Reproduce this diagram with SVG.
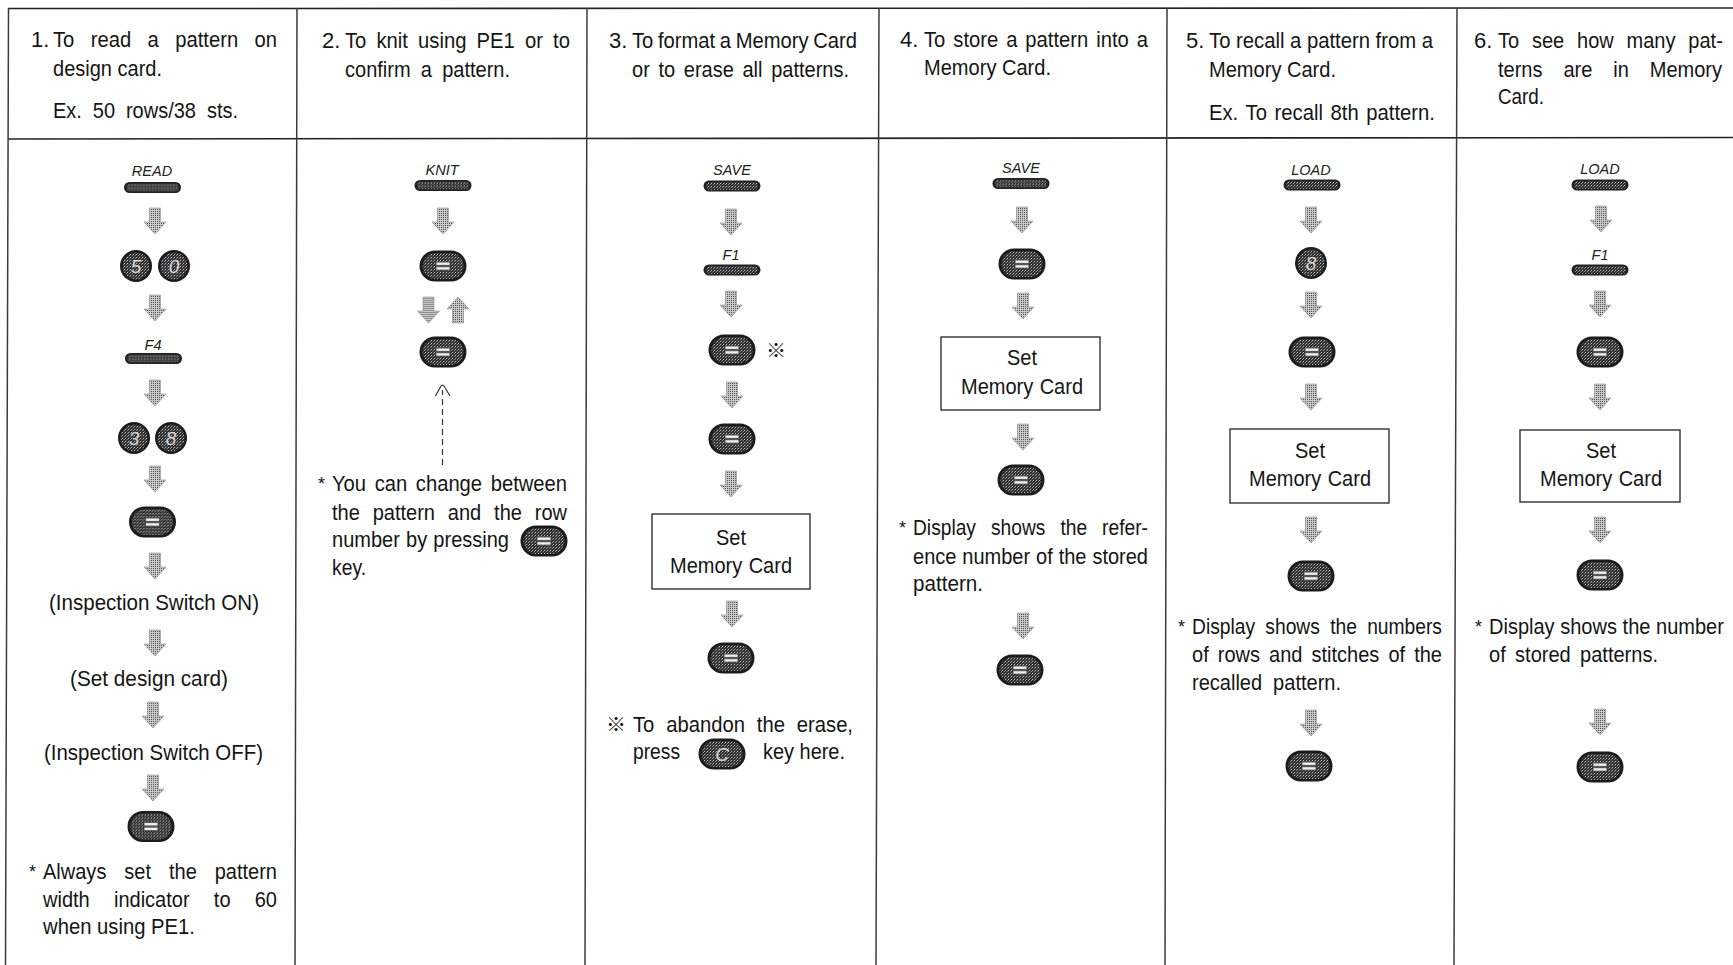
<svg xmlns="http://www.w3.org/2000/svg" width="1733" height="965" viewBox="0 0 1733 965">
<style>
text{font-family:"Liberation Sans",Arial,sans-serif;font-size:22px;fill:#151515}
.c{text-anchor:middle}
.lab{font-size:14.5px;font-style:italic;text-anchor:middle;fill:#222}
.k{font-size:19px;font-style:italic;text-anchor:middle;fill:#d8d8d8}
.st{font-size:18px}
.rf{font-family:"Noto Sans CJK JP",sans-serif;font-size:20px;font-weight:700}
.line{stroke:#222;stroke-width:1.6;fill:none}
.vl{stroke:#3a3a3a;stroke-width:1.5;fill:none}
.box{fill:#fff;stroke:#222;stroke-width:1.3}
.dash{stroke:#333;stroke-width:1.2;fill:none}
</style>
<defs>
<pattern id="st" width="3" height="3" patternUnits="userSpaceOnUse"><rect width="3" height="3" fill="#2c2c2c"/><rect x="0" y="0" width="1" height="1" fill="#c4c4c4"/><rect x="2" y="1" width="1" height="1" fill="#8c8c8c"/><rect x="1" y="2" width="1" height="1" fill="#555"/></pattern>
<pattern id="ag" width="2" height="2" patternUnits="userSpaceOnUse"><rect width="2" height="2" fill="#c8c8c8"/><rect width="1" height="1" fill="#555"/></pattern>
<polygon id="ar" points="-5.500,-13 5.500,-13 5.500,1 11,1 0,13 -11,1 -5.500,1" fill="url(#ag)" stroke="#8a8a8a" stroke-width=".6"/>
<g id="keyb"><rect x="-23.500" y="-15.500" width="47" height="31" rx="15.500" fill="#1c1c1c"/><rect x="-20.500" y="-13" width="41" height="26" rx="13" fill="url(#st)"/></g>
<g id="key"><use href="#keyb"/><rect x="-7" y="-4.500" width="14" height="9" fill="#555"/><rect x="-6.500" y="-3.500" width="13" height="2.400" fill="#eee"/><rect x="-6.500" y="1.200" width="13" height="2.400" fill="#eee"/></g>
<g id="disc"><circle r="16" fill="#1c1c1c"/><circle r="13.500" fill="url(#st)"/></g>
<g id="bar"><rect x="-28.500" y="-5.500" width="57" height="11" rx="5.500" fill="#222"/><rect x="-26" y="-3.800" width="52" height="7.600" rx="3.500" fill="url(#st)"/></g>
</defs>
<rect width="1733" height="965" fill="#fff"/>

<g id="frame">
<path class="line" d="M8 8.500L1733 8"/>
<path class="line" d="M8 139L1733 137.500"/>
<path class="vl" d="M8.500 8L5.500 965M297 8L295 965M587 8L585 965M879 8L876 965M1167 8L1165 965M1457 8L1454 965"/>
</g>

<g id="connectors">
<use href="#ar" x="155" y="221"/><use href="#ar" x="155" y="308"/><use href="#ar" x="155" y="393"/><use href="#ar" x="155" y="479"/><use href="#ar" x="155" y="566"/><use href="#ar" x="155" y="643"/><use href="#ar" x="153" y="715"/><use href="#ar" x="153" y="788"/>
<use href="#ar" x="443" y="221"/><use href="#ar" x="428.500" y="310"/><use href="#ar" transform="translate(458 310) rotate(180)"/>
<path class="dash" stroke-dasharray="6 4" d="M442.500 465V390"/><path class="dash" d="M435.500 396L441 386Q442.500 384 444 386L450 396"/>
<use href="#ar" x="731" y="222"/><use href="#ar" x="731" y="304"/><use href="#ar" x="732" y="395"/><use href="#ar" x="731" y="484"/><use href="#ar" x="732" y="614"/>
<use href="#ar" x="1022" y="220"/><use href="#ar" x="1023" y="306"/><use href="#ar" x="1023" y="437"/><use href="#ar" x="1023" y="626"/>
<use href="#ar" x="1311" y="220"/><use href="#ar" x="1311" y="305"/><use href="#ar" x="1311" y="397"/><use href="#ar" x="1311" y="530"/><use href="#ar" x="1311" y="723"/>
<use href="#ar" x="1601" y="219"/><use href="#ar" x="1600" y="304"/><use href="#ar" x="1600" y="397"/><use href="#ar" x="1600" y="530"/><use href="#ar" x="1600" y="722"/>
</g>

<g id="col1">
<g id="h1"><text y="47"><tspan x="31">1.</tspan> <tspan x="53" word-spacing="11.700" textLength="224" lengthAdjust="spacingAndGlyphs">To read a pattern on</tspan></text><text x="53" y="76" textLength="109" lengthAdjust="spacingAndGlyphs">design card.</text><text x="53" y="118" word-spacing="5.900" textLength="185" lengthAdjust="spacingAndGlyphs">Ex. 50 rows/38 sts.</text></g>
<g id="c1-read"><text class="lab" x="152" y="176">READ</text><use href="#bar" x="152.500" y="187.500"/></g>
<g id="c1-50"><use href="#disc" x="136" y="266"/><use href="#disc" x="174" y="266"/><text class="k" x="136" y="273">5</text><text class="k" x="174" y="273">0</text></g>
<g id="c1-f4"><text class="lab" x="153" y="350">F4</text><use href="#bar" x="153.500" y="358.500"/></g>
<g id="c1-38"><use href="#disc" x="134" y="438"/><use href="#disc" x="171" y="438"/><text class="k" x="134" y="445">3</text><text class="k" x="171" y="445">8</text></g>
<g id="c1-key1"><use href="#key" x="152.500" y="522"/></g>
<text id="c1-on" x="49" y="610" textLength="210" lengthAdjust="spacingAndGlyphs">(Inspection Switch ON)</text>
<text id="c1-set" x="70" y="686" textLength="158" lengthAdjust="spacingAndGlyphs">(Set design card)</text>
<text id="c1-off" x="44" y="760" textLength="219" lengthAdjust="spacingAndGlyphs">(Inspection Switch OFF)</text>
<g id="c1-key2"><use href="#key" x="151" y="826.500"/></g>
<g id="c1-note"><text class="st" x="29" y="878">*</text><text x="43" y="879" word-spacing="13.600" textLength="234" lengthAdjust="spacingAndGlyphs">Always set the pattern</text><text x="43" y="907" word-spacing="20.500" textLength="234" lengthAdjust="spacingAndGlyphs">width indicator to 60</text><text x="43" y="934" textLength="152" lengthAdjust="spacingAndGlyphs">when using PE1.</text></g>
</g>

<g id="col2">
<g id="h2"><text y="48"><tspan x="322">2.</tspan> <tspan x="345" word-spacing="4.900" textLength="225" lengthAdjust="spacingAndGlyphs">To knit using PE1 or to</tspan></text><text x="345" y="77" word-spacing="5.100" textLength="165" lengthAdjust="spacingAndGlyphs">confirm a pattern.</text></g>
<g id="c2-knit"><text class="lab" x="442" y="175">KNIT</text><use href="#bar" x="443" y="185.500"/></g>
<g id="c2-key1"><use href="#key" x="443" y="266"/></g>
<g id="c2-key2"><use href="#key" x="443" y="352"/></g>
<g id="c2-note"><text class="st" x="318" y="490">*</text><text x="332" y="491" word-spacing="3.300" textLength="235" lengthAdjust="spacingAndGlyphs">You can change between</text><text x="332" y="520" word-spacing="8" textLength="235" lengthAdjust="spacingAndGlyphs">the pattern and the row</text><text x="332" y="547" word-spacing=".700" textLength="177" lengthAdjust="spacingAndGlyphs">number by pressing</text><use href="#key" x="544" y="541"/><text x="332" y="575" textLength="34" lengthAdjust="spacingAndGlyphs">key.</text></g>
</g>

<g id="col3">
<g id="h3"><text y="48"><tspan x="609">3.</tspan> <tspan x="632" word-spacing="-1.100" textLength="225" lengthAdjust="spacingAndGlyphs">To format a Memory Card</tspan></text><text x="632" y="77" word-spacing="3.400" textLength="217" lengthAdjust="spacingAndGlyphs">or to erase all patterns.</text></g>
<g id="c3-save"><text class="lab" x="732" y="175">SAVE</text><use href="#bar" x="732" y="186"/></g>
<g id="c3-f1"><text class="lab" x="731" y="260">F1</text><use href="#bar" x="732" y="270"/></g>
<g id="c3-key1"><use href="#key" x="732" y="350"/><text x="776" y="358" class="c rf">※</text></g>
<g id="c3-key2"><use href="#key" x="732" y="439"/></g>
<g id="c3-box"><rect class="box" x="652" y="514" width="158" height="75"/><text class="c" x="731" y="545" textLength="30" lengthAdjust="spacingAndGlyphs">Set</text><text x="670" y="573" word-spacing="1" textLength="122" lengthAdjust="spacingAndGlyphs">Memory Card</text></g>
<g id="c3-key3"><use href="#key" x="731" y="658"/></g>
<g id="c3-note"><text y="732"><tspan class="rf" x="606">※</tspan> <tspan x="633" word-spacing="6.800" textLength="220" lengthAdjust="spacingAndGlyphs">To abandon the erase,</tspan></text><text x="633" y="759" textLength="47" lengthAdjust="spacingAndGlyphs">press</text><use href="#keyb" x="722" y="754"/><text class="k" x="722" y="761">C</text><text x="763" y="759" textLength="82" lengthAdjust="spacingAndGlyphs">key here.</text></g>
</g>

<g id="col4">
<g id="h4"><text y="47"><tspan x="900">4.</tspan> <tspan x="924" word-spacing="2.500" textLength="224" lengthAdjust="spacingAndGlyphs">To store a pattern into a</tspan></text><text x="924" y="75" textLength="127" lengthAdjust="spacingAndGlyphs">Memory Card.</text></g>
<g id="c4-save"><text class="lab" x="1021" y="173">SAVE</text><use href="#bar" x="1021" y="183.500"/></g>
<g id="c4-key1"><use href="#key" x="1022" y="264"/></g>
<g id="c4-box"><rect class="box" x="941" y="337" width="159" height="73"/><text class="c" x="1022" y="365" textLength="30" lengthAdjust="spacingAndGlyphs">Set</text><text x="961" y="394" word-spacing="1" textLength="122" lengthAdjust="spacingAndGlyphs">Memory Card</text></g>
<g id="c4-key2"><use href="#key" x="1021" y="480"/></g>
<g id="c4-note"><text class="st" x="899" y="534">*</text><text x="913" y="535" word-spacing="11.100" textLength="235" lengthAdjust="spacingAndGlyphs">Display shows the refer-</text><text x="913" y="564" word-spacing=".400" textLength="235" lengthAdjust="spacingAndGlyphs">ence number of the stored</text><text x="913" y="591" textLength="70" lengthAdjust="spacingAndGlyphs">pattern.</text></g>
<g id="c4-key3"><use href="#key" x="1020" y="670"/></g>
</g>

<g id="col5">
<g id="h5"><text y="48"><tspan x="1186">5.</tspan> <tspan x="1209" textLength="224" lengthAdjust="spacingAndGlyphs">To recall a pattern from a</tspan></text><text x="1209" y="77" textLength="127" lengthAdjust="spacingAndGlyphs">Memory Card.</text><text x="1209" y="120" word-spacing="2.200" textLength="226" lengthAdjust="spacingAndGlyphs">Ex. To recall 8th pattern.</text></g>
<g id="c5-load"><text class="lab" x="1311" y="175">LOAD</text><use href="#bar" x="1312" y="185"/></g>
<g id="c5-8"><use href="#disc" x="1311" y="263"/><text class="k" x="1311" y="270">8</text></g>
<g id="c5-key1"><use href="#key" x="1312" y="352"/></g>
<g id="c5-box"><rect class="box" x="1230" y="429" width="159" height="74"/><text class="c" x="1310" y="458" textLength="30" lengthAdjust="spacingAndGlyphs">Set</text><text x="1249" y="486" word-spacing="1" textLength="122" lengthAdjust="spacingAndGlyphs">Memory Card</text></g>
<g id="c5-key2"><use href="#key" x="1311" y="576"/></g>
<g id="c5-note"><text class="st" x="1178" y="633">*</text><text x="1192" y="634" word-spacing="5.600" textLength="250" lengthAdjust="spacingAndGlyphs">Display shows the numbers</text><text x="1192" y="662" word-spacing="3.850" textLength="250" lengthAdjust="spacingAndGlyphs">of rows and stitches of the</text><text x="1192" y="690" word-spacing="6" textLength="149" lengthAdjust="spacingAndGlyphs">recalled pattern.</text></g>
<g id="c5-key3"><use href="#key" x="1309" y="766"/></g>
</g>

<g id="col6">
<g id="h6"><text x="1474" y="48">6.</text><text transform="translate(1498 48) scale(.91 1)" word-spacing="8">To see how many pat-</text><text transform="translate(1498 77) scale(.91 1)" word-spacing="16.900">terns are in Memory</text><text x="1498" y="104" textLength="46" lengthAdjust="spacingAndGlyphs">Card.</text></g>
<g id="c6-load"><text class="lab" x="1600" y="174">LOAD</text><use href="#bar" x="1600" y="185"/></g>
<g id="c6-f1"><text class="lab" x="1600" y="260">F1</text><use href="#bar" x="1600" y="270"/></g>
<g id="c6-key1"><use href="#key" x="1600" y="352"/></g>
<g id="c6-box"><rect class="box" x="1520" y="430" width="160" height="72"/><text class="c" x="1601" y="458" textLength="30" lengthAdjust="spacingAndGlyphs">Set</text><text x="1540" y="486" word-spacing="1" textLength="122" lengthAdjust="spacingAndGlyphs">Memory Card</text></g>
<g id="c6-key2"><use href="#key" x="1600" y="575"/></g>
<g id="c6-note"><text class="st" x="1475" y="633">*</text><text transform="translate(1489 634) scale(.91 1)" word-spacing=".100">Display shows the number</text><text x="1489" y="662" word-spacing="4.200" textLength="169" lengthAdjust="spacingAndGlyphs">of stored patterns.</text></g>
<g id="c6-key3"><use href="#key" x="1600" y="767"/></g>
</g>
</svg>
